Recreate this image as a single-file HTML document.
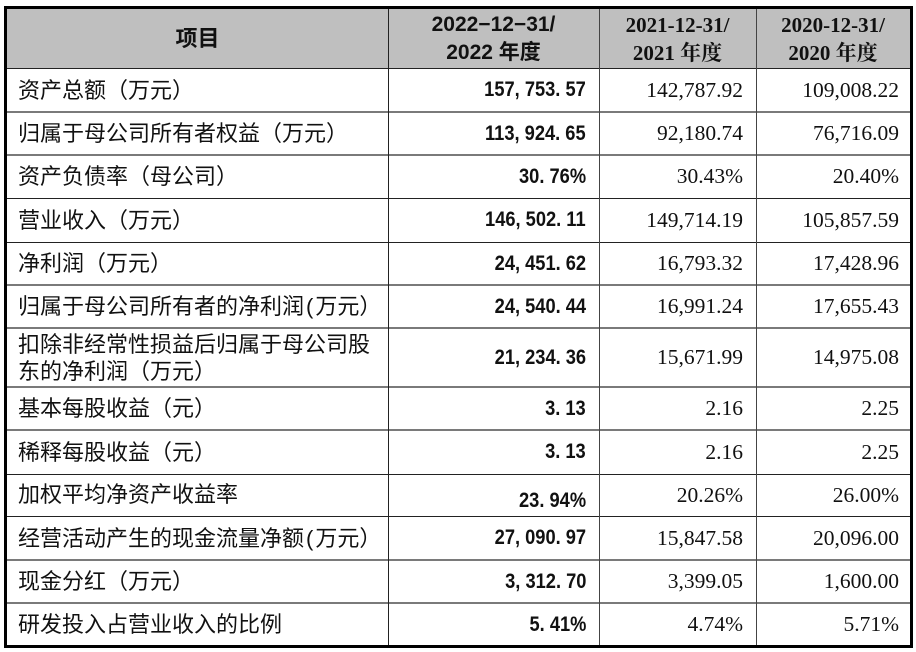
<!DOCTYPE html>
<html><head><meta charset="utf-8"><style>
*{margin:0;padding:0;box-sizing:border-box}
html,body{width:916px;height:652px;background:#fff;overflow:hidden}
body{position:relative;font-family:"Liberation Sans","Noto Sans CJK SC",sans-serif;color:#111}
.b{position:absolute;background:#000}
.hl{position:absolute;left:7px;width:903px;height:1px;background:#222}
.hg{position:absolute;left:7px;width:903px;height:2px;background:#7a7a7a}
.vl{position:absolute;top:9px;height:636px;width:1px;background:#222}
.row{position:absolute;left:7px;width:903px}
.c{position:absolute;top:0;height:100%;display:flex;align-items:center;font-size:21px;white-space:nowrap}
.lab{left:11px;font-size:22px;font-family:"Liberation Sans","Noto Sans CJK SC",sans-serif;line-height:27px}
.v1{left:381px;width:211px;justify-content:flex-end;padding-right:13px;font-weight:bold;font-family:"Liberation Sans","Noto Sans CJK SC",sans-serif}
.v1 span{display:inline-block;transform:scaleX(0.87);transform-origin:right center}
.v2{left:592px;width:157px;justify-content:flex-end;padding-right:13px;font-size:21.5px;font-family:"Liberation Serif",serif}
.v3{left:749px;width:154px;justify-content:flex-end;padding-right:11px;font-size:21.5px;font-family:"Liberation Serif",serif}
.hd{position:absolute;top:9px;height:59px;display:flex;flex-direction:column;justify-content:center;align-items:center;font-weight:bold;font-size:21px;line-height:28px;text-align:center}
</style></head><body>
<div style="position:absolute;left:7px;top:9px;width:903px;height:59px;background:#bfbfbf"></div>

<div class="hd" style="left:7px;width:381px;font-size:22px;font-family:'Liberation Sans','Noto Sans CJK SC',sans-serif">项目</div>
<div class="hd" style="left:388px;width:211px;font-family:'Liberation Sans','Noto Sans CJK SC',sans-serif"><div>2022−12−31/</div><div>2022 年度</div></div>
<div class="hd" style="left:599px;width:157px;font-family:'Liberation Serif','Noto Serif CJK SC',serif"><div>2021-12-31/</div><div>2021 年度</div></div>
<div class="hd" style="left:756px;width:154px;font-family:'Liberation Serif','Noto Serif CJK SC',serif"><div>2020-12-31/</div><div>2020 年度</div></div>

<div class="row" style="top:68px;height:44px"><div class="c lab">资产总额（万元）</div><div class="c v1"><span>157, 753. 57</span></div><div class="c v2">142,787.92</div><div class="c v3">109,008.22</div></div>
<div class="row" style="top:112px;height:43px"><div class="c lab">归属于母公司所有者权益（万元）</div><div class="c v1"><span>113, 924. 65</span></div><div class="c v2">92,180.74</div><div class="c v3">76,716.09</div></div>
<div class="row" style="top:155px;height:43px"><div class="c lab">资产负债率（母公司）</div><div class="c v1"><span>30. 76%</span></div><div class="c v2">30.43%</div><div class="c v3">20.40%</div></div>
<div class="row" style="top:198px;height:44px"><div class="c lab">营业收入（万元）</div><div class="c v1"><span>146, 502. 11</span></div><div class="c v2">149,714.19</div><div class="c v3">105,857.59</div></div>
<div class="row" style="top:242px;height:43px"><div class="c lab">净利润（万元）</div><div class="c v1"><span>24, 451. 62</span></div><div class="c v2">16,793.32</div><div class="c v3">17,428.96</div></div>
<div class="row" style="top:285px;height:43px"><div class="c lab">归属于母公司所有者的净利润<span style="padding:0 2px">(</span>万元）</div><div class="c v1"><span>24, 540. 44</span></div><div class="c v2">16,991.24</div><div class="c v3">17,655.43</div></div>
<div class="row" style="top:328px;height:59px"><div class="c lab"><div>扣除非经常性损益后归属于母公司股<br>东的净利润（万元）</div></div><div class="c v1"><span>21, 234. 36</span></div><div class="c v2">15,671.99</div><div class="c v3">14,975.08</div></div>
<div class="row" style="top:387px;height:43px"><div class="c lab">基本每股收益（元）</div><div class="c v1"><span>3. 13</span></div><div class="c v2">2.16</div><div class="c v3">2.25</div></div>
<div class="row" style="top:430px;height:44px"><div class="c lab">稀释每股收益（元）</div><div class="c v1"><span>3. 13</span></div><div class="c v2">2.16</div><div class="c v3">2.25</div></div>
<div class="row" style="top:474px;height:42px"><div class="c lab" style="padding-bottom:2px">加权平均净资产收益率</div><div class="c v1" style="padding-top:12px"><span>23. 94%</span></div><div class="c v2">20.26%</div><div class="c v3">26.00%</div></div>
<div class="row" style="top:516px;height:44px"><div class="c lab">经营活动产生的现金流量净额<span style="padding:0 2px">(</span>万元）</div><div class="c v1"><span>27, 090. 97</span></div><div class="c v2">15,847.58</div><div class="c v3">20,096.00</div></div>
<div class="row" style="top:560px;height:43px"><div class="c lab">现金分红（万元）</div><div class="c v1"><span>3, 312. 70</span></div><div class="c v2">3,399.05</div><div class="c v3">1,600.00</div></div>
<div class="row" style="top:603px;height:43px"><div class="c lab">研发投入占营业收入的比例</div><div class="c v1"><span>5. 41%</span></div><div class="c v2">4.74%</div><div class="c v3">5.71%</div></div>

<div class="hl" style="top:68px"></div>
<div class="hg" style="top:111px"></div>
<div class="hg" style="top:154px"></div>
<div class="hl" style="top:198px"></div>
<div class="hl" style="top:242px"></div>
<div class="hg" style="top:284px"></div>
<div class="hg" style="top:327px"></div>
<div class="hg" style="top:386px"></div>
<div class="hg" style="top:429px"></div>
<div class="hl" style="top:474px"></div>
<div class="hl" style="top:516px"></div>
<div class="hg" style="top:559px"></div>
<div class="hg" style="top:602px"></div>

<div class="vl" style="left:388px"></div>
<div class="vl" style="left:599px;background:#444"></div>
<div class="vl" style="left:756px;background:#444"></div>

<div class="b" style="left:4px;top:6px;width:909px;height:3px"></div>
<div class="b" style="left:4px;top:645px;width:909px;height:3px"></div>
<div class="b" style="left:4px;top:6px;width:3px;height:642px"></div>
<div class="b" style="left:910px;top:6px;width:3px;height:642px"></div>
</body></html>
